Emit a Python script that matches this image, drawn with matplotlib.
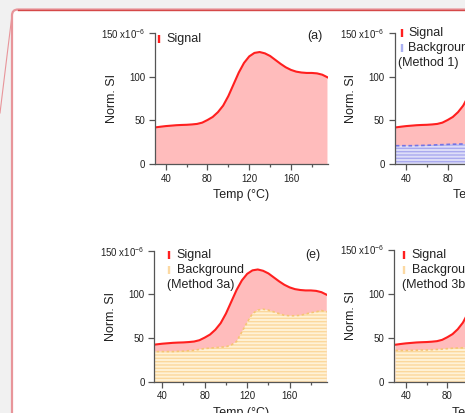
import matplotlib
matplotlib.use("Agg")
import matplotlib.pyplot as plt
from matplotlib.patches import FancyBboxPatch
from matplotlib.lines import Line2D
from matplotlib.transforms import IdentityTransform
from matplotlib.ticker import FixedLocator, FixedFormatter, MultipleLocator

plt.rcParams['font.family'] = ['Liberation Sans', 'DejaVu Sans']
plt.rcParams['mathtext.default'] = 'regular'
plt.rcParams['hatch.linewidth'] = 1.0

# ===== Data (Norm. SI in units of 1e-6) =====
temp = [30, 35, 40, 45, 50, 55, 60, 65, 70, 75, 80, 85, 90, 95, 100, 105, 110,
        115, 120, 125, 130, 135, 140, 145, 150, 155, 160, 165, 170, 175, 180,
        185, 190, 195]
signal = [42, 42.8, 43.5, 44, 44.5, 44.8, 45, 45.4, 46, 47.5, 50.5, 54, 59.5,
          67, 78, 91.5, 105, 116, 123.5, 127.5, 128.5, 127, 124, 119.5, 115,
          111, 108, 106, 105, 104.5, 104.5, 104, 102.5, 99.5]
bg_method1 = [21, 21, 21, 21, 21.2, 21.3, 21.5, 21.7, 22, 22.2, 22.5, 22.7,
              22.8, 23, 23, 23.2, 23.3, 23.5, 23.6, 23.8, 24, 24, 24.2, 24.3,
              24.5, 24.6, 24.8, 25, 25, 25.2, 25.3, 25.5, 25.6, 25.8]
bg_method3a = [34.5, 34.5, 34.5, 34.5, 34.5, 34.8, 35, 35.5, 36, 37, 38, 38.5,
               39, 39.5, 40, 42, 46, 57, 68, 78, 82, 83, 82, 80, 78, 76, 75.5,
               75.5, 76, 77.5, 79, 80, 81.5, 80]
bg_method3b = [35.5, 35.5, 35.5, 35.6, 35.8, 36, 36, 36.3, 36.6, 37, 37.5, 38,
               38.3, 38.5, 38.8, 39, 39.2, 39.4, 39.6, 39.8, 40, 40, 40, 40,
               40, 40, 40, 40, 40, 40, 40, 40, 40, 40]

x_major = [40, 80, 120, 160]
y_ticks = [0, 50, 100, 150]
y_labels = ["0", "50", "100", "150 x10$^{-6}$"]

# ===== Styling =====
W, H = 465, 413
sig_line = '#ff1f1f'
sig_fill = '#ffbcbc'
axis_col = '#555555'
text_col = '#222222'

fig = plt.figure(figsize=(W / 100, H / 100), dpi=100)
fig.patch.set_facecolor('#f1f1f1')


def fx(x):
    return x / W


def fy(y):
    return 1 - y / H


# page card behind the figure
card = FancyBboxPatch((12, -40), 700, H - 9.5 + 40,
                      boxstyle='round,pad=0,rounding_size=6',
                      transform=IdentityTransform(), facecolor='white',
                      edgecolor='#e8959a', linewidth=1.6, zorder=-3)
fig.add_artist(card)
fig.add_artist(Line2D([fx(18), fx(470)], [fy(9.5), fy(9.5)], color='#d54848',
                      linewidth=1.0, zorder=-2))
fig.add_artist(Line2D([fx(12), fx(0)], [fy(15), fy(113)], color='#e8959a',
                      linewidth=0.8, zorder=-2))


def make_axes(left, top, bottom, xlo, width=173, xhi=195.5):
    ax = fig.add_axes([fx(left), fy(bottom), width / W, (bottom - top) / H])
    ax.set_xlim(xlo, xhi)
    ax.set_ylim(0, 150)
    ax.patch.set_visible(False)
    for s in ['top', 'right']:
        ax.spines[s].set_visible(False)
    for s in ['left', 'bottom']:
        ax.spines[s].set_color(axis_col)
        ax.spines[s].set_linewidth(0.9)
    ax.xaxis.set_major_locator(FixedLocator(x_major))
    ax.xaxis.set_minor_locator(MultipleLocator(20))
    ax.yaxis.set_major_locator(FixedLocator(y_ticks))
    ax.yaxis.set_major_formatter(FixedFormatter(y_labels))
    ax.tick_params(axis='both', which='major', labelsize=7, colors=axis_col,
                   labelcolor=text_col, width=0.9, pad=2.5)
    ax.tick_params(axis='x', which='major', length=4.5)
    ax.tick_params(axis='x', which='minor', length=2.2, width=0.9,
                   colors=axis_col)
    ax.tick_params(axis='y', which='major', length=4.5)
    ax.set_xlabel('Temp (°C)', fontsize=9, color=text_col)
    ax.set_ylabel('Norm. SI', fontsize=9, color=text_col)
    ax.xaxis.set_label_coords(0.5, -0.19)
    ax.yaxis.set_label_coords(-0.215, 0.5)
    ax.fill_between(temp, 0, signal, facecolor=sig_fill, linewidth=0)
    return ax


def add_background(ax, bg, face, stripe, line, ls):
    ax.fill_between(temp, 0, bg, facecolor=face, edgecolor=stripe,
                    hatch='-----', linewidth=0)
    ax.plot(temp, bg, color=line, linewidth=1.2, linestyle=ls)


def legend_bar(x, y, color):
    fig.add_artist(Line2D([fx(x), fx(x)], [fy(y - 4), fy(y + 4)], color=color,
                          linewidth=1.7, solid_capstyle='butt'))


def legend_text(x, y, s):
    fig.text(fx(x), fy(y), s, fontsize=9, color=text_col, ha='left',
             va='center')


# (a) signal only
ax_a = make_axes(155, 33.3, 164, 29.7)
ax_a.plot(temp, signal, color=sig_line, linewidth=1.5)
legend_bar(159, 39, sig_line)
legend_text(166, 39, 'Signal')
fig.text(fx(315), fy(36), '(a)', fontsize=9, color=text_col, ha='center',
         va='center')

# (b) background method 1
ax_b = make_axes(394.5, 33.3, 164, 28.8)
add_background(ax_b, bg_method1, '#dedef8', '#a9a9ee', '#7474e4', (0, (2.2, 1.6)))
ax_b.plot(temp, signal, color=sig_line, linewidth=1.5)
legend_bar(401.7, 33.3, sig_line)
legend_text(408, 33.3, 'Signal')
legend_bar(401.7, 48.3, '#aab0f2')
legend_text(408, 48.3, 'Background')
legend_text(398.3, 63.3, '(Method 1)')

# (e) background method 3a
ax_e = make_axes(154.3, 250.7, 381.7, 32.5)
add_background(ax_e, bg_method3a, '#fff2d6', '#fbd89c', '#f6c475', (0, (1.5, 1.5)))
ax_e.plot(temp, signal, color=sig_line, linewidth=1.5)
legend_bar(169.3, 255, sig_line)
legend_text(176.7, 255, 'Signal')
legend_bar(169.3, 270, '#fcd9a2')
legend_text(176.7, 270, 'Background')
legend_text(166.7, 285, '(Method 3a)')
fig.text(fx(312.7), fy(255), '(e)', fontsize=9, color=text_col, ha='center',
         va='center')

# (f) background method 3b
ax_f = make_axes(394, 249.5, 381.7, 28.5)
add_background(ax_f, bg_method3b, '#fff2d6', '#fbd89c', '#f6c475', (0, (1.5, 1.5)))
ax_f.plot(temp, signal, color=sig_line, linewidth=1.5)
legend_bar(404, 255, sig_line)
legend_text(411.7, 255, 'Signal')
legend_bar(404, 270, '#fcd9a2')
legend_text(411.7, 270, 'Background')
legend_text(401.7, 285, '(Method 3b)')

fig.savefig('out.png', dpi=100, facecolor=fig.get_facecolor())
